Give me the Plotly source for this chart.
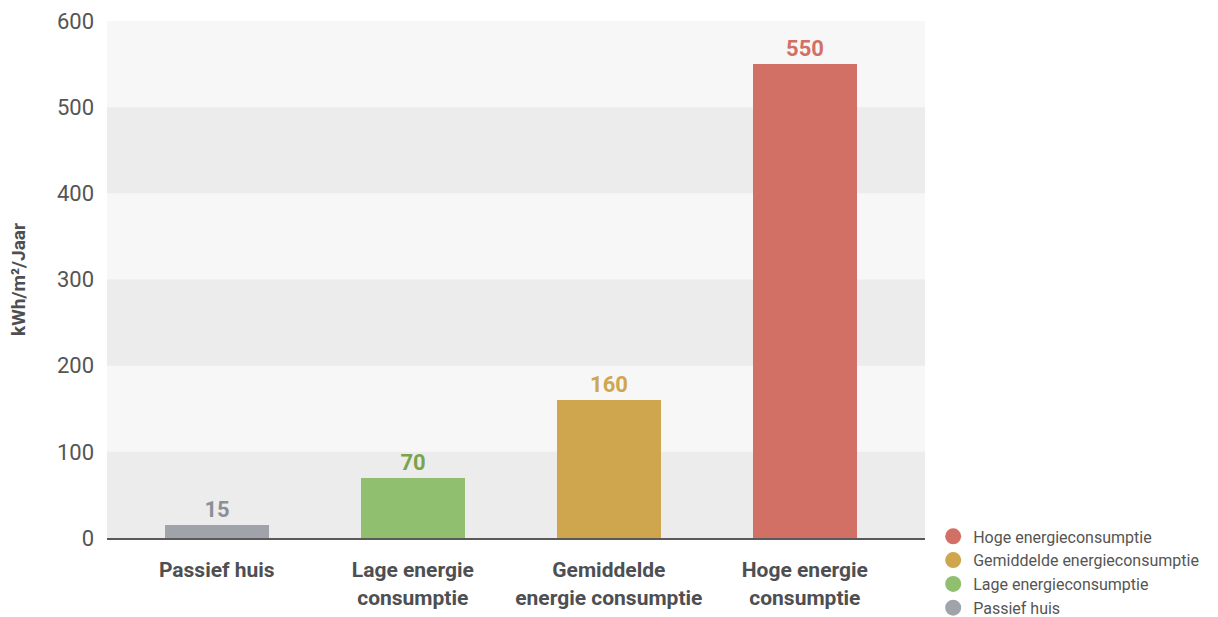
import plotly.graph_objects as go

# Energy use per dwelling type
categories = ["Passief huis", "Lage energie<br>consumptie",
              "Gemiddelde<br>energie consumptie", "Hoge energie<br>consumptie"]
legend_names = ["Passief huis", "Lage energieconsumptie",
                "Gemiddelde energieconsumptie", "Hoge energieconsumptie"]
values = [15, 70, 160, 550]
bar_colors = ["#a0a4aa", "#8fbf6f", "#cfa64e", "#d37065"]
label_colors = ["#8c9096", "#7aa34c", "#cfa64e", "#d37065"]
y_ticks = [0, 100, 200, 300, 400, 500, 600]

fig = go.Figure()

for cat, name, val, col, lcol in zip(categories, legend_names, values, bar_colors, label_colors):
    fig.add_trace(go.Bar(
        x=[cat], y=[val], width=0.53, marker=dict(color=col, line=dict(width=0)),
        text=[str(val)], textposition="outside", cliponaxis=False,
        textfont=dict(family="Roboto", size=22, color=lcol, weight="bold"),
        showlegend=False, hoverinfo="skip",
    ))

# circle markers for the legend
for name, col in zip(legend_names, bar_colors):
    fig.add_trace(go.Scatter(
        x=[None], y=[None], mode="markers", name=name,
        marker=dict(symbol="circle", size=17, color=col),
    ))

# alternating horizontal bands
shapes = []
for i in range(len(y_ticks) - 1):
    if i % 2 == 0:
        shapes.append(dict(type="rect", xref="paper", yref="y", x0=0, x1=1,
                           y0=y_ticks[i], y1=y_ticks[i + 1], fillcolor="#ececec",
                           line=dict(width=0), layer="below"))

fig.update_layout(
    width=1218, height=617,
    margin=dict(l=107, r=293, t=21, b=79, autoexpand=False),
    paper_bgcolor="white", plot_bgcolor="#f7f7f7",
    shapes=shapes,
    bargap=0,
    font=dict(family="Roboto", color="#555555"),
    xaxis=dict(
        type="category", range=[-0.56, 3.613], automargin=False,
        showgrid=False, zeroline=False,
        showline=True, linecolor="#5a5a5a", linewidth=2,
        ticks="", ticklabelstandoff=12,
        tickfont=dict(family="Roboto", size=21, color="#4d4f52", weight="bold"),
    ),
    yaxis=dict(
        range=[0, 600], tickvals=y_ticks, showgrid=False, zeroline=False,
        ticks="", ticklabelstandoff=12, automargin=False,
        tickfont=dict(family="Roboto", size=22, color="#555555"),
        title=dict(text="kWh/m²/Jaar", standoff=26,
                   font=dict(family="Roboto", size=19, color="#4d4f52", weight="bold")),
    ),
    legend=dict(
        x=1.01, y=0.036, xanchor="left", yanchor="top",
        traceorder="reversed", tracegroupgap=0, itemwidth=30,
        font=dict(family="Roboto", size=16, color="#555555"),
        bgcolor="rgba(0,0,0,0)",
    ),
)

fig.write_html("out.html")
